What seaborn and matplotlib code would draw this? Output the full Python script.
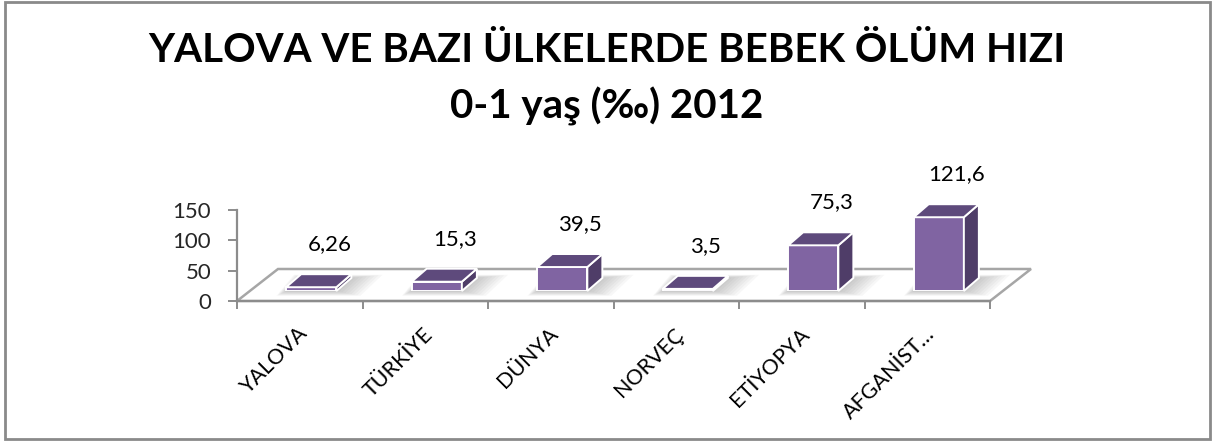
import matplotlib
matplotlib.use("Agg")
import matplotlib.pyplot as plt
import seaborn as sns
import pandas as pd
from matplotlib.patches import Polygon, Rectangle

# Infant mortality rate, 0-1 age (per mille), 2012
categories = ["YALOVA", "TÜRKİYE", "DÜNYA", "NORVEÇ", "ETİYOPYA", "AFGANİST…"]
rates = [6.26, 15.3, 39.5, 3.5, 75.3, 121.6]
y_ticks = [0, 50, 100, 150]
title_lines = ["YALOVA VE BAZI ÜLKELERDE BEBEK ÖLÜM HIZI", "0-1 yaş (‰) 2012"]

df = pd.DataFrame({"category": categories, "rate": rates})

sns.set_style("white")
plt.rcParams["font.family"] = ["Lato", "DejaVu Sans"]

FRONT = "#8064A2"
TOP = "#5E4A7C"
SIDE = "#4F3D68"
GRID = "#8C8C8C"
FLOOR = "#A6A6A6"

W, H = 1214, 441
fig = plt.figure(figsize=(W / 100, H / 100), dpi=100)


def px_box(left, top, right, bottom):
    return [left / W, 1 - bottom / H, (right - left) / W, (bottom - top) / H]


# outer chart frame
fig.patches.append(Rectangle((5 / W, 2 / H), 1205 / W, 437 / H, transform=fig.transFigure,
                             fill=False, edgecolor="#8A8A8A", linewidth=2))

# front axis plane
ax = fig.add_axes(px_box(237, 210, 990, 301))
ax.set_xlim(-0.5, len(categories) - 0.5)
ax.set_ylim(0, 150)

# bar plane (sits a little deeper on the floor)
ax_bar = fig.add_axes(px_box(248.5, 200, 1001.5, 291))

px_x = 753 / len(categories)      # pixels per category
px_y = 91 / 150                   # pixels per value unit

# floor of the 3D plot
fdx, fdy = 41 / px_x, 32 / px_y
x0f, x1f = -0.5, len(categories) - 0.5
floor = Polygon([(x0f, 0), (x0f + fdx, fdy), (x1f + fdx, fdy), (x1f, 0)], closed=True,
                facecolor="white", edgecolor=FLOOR, linewidth=1.8, clip_on=False, zorder=0.5)
ax.add_patch(floor)

for side in ["top", "right"]:
    ax.spines[side].set_visible(False)
for side in ["left", "bottom"]:
    ax.spines[side].set_color(GRID)
    ax.spines[side].set_linewidth(1.6)

ax.set_yticks(y_ticks)
ax.set_yticklabels([str(t) for t in y_ticks])
ax.tick_params(axis="y", direction="out", length=6.5, width=1.4, color=GRID,
               labelsize=16, pad=12, left=True)
ax.set_xticks([i - 0.5 for i in range(len(categories) + 1)])
ax.set_xticklabels([])
ax.tick_params(axis="x", direction="out", length=6, width=1.4, color=GRID, bottom=True)
ax.set_xlabel("")
ax.set_ylabel("")

for i, name in enumerate(categories):
    ax.annotate(name, xy=(i, 0), xytext=(-2.0, -16.5), textcoords="offset points",
                rotation=45, rotation_mode="anchor", ha="right", va="top",
                fontsize=15.5, color="black", annotation_clip=False)

# bars
sns.barplot(data=df, x="category", y="rate", ax=ax_bar, color=FRONT, saturation=1,
            width=0.4, edgecolor="white", linewidth=1.4, zorder=3)
ax_bar.set_xlim(-0.5, len(categories) - 0.5)
ax_bar.set_ylim(0, 150)
ax_bar.axis("off")
ax_bar.patch.set_alpha(0)

bdx, bdy = 15 / px_x, 13 / px_y
for bar, value in zip(list(ax_bar.patches), rates):
    x0 = bar.get_x()
    w = bar.get_width()
    h = bar.get_height()
    # soft shadow on the floor
    for k in range(1, 9):
        ex = k * 3.0 / px_x
        ey = k * 1.0 / px_y
        shadow = Polygon([(x0 - ex * 0.4, -ey * 0.6), (x0 + w + ex, -ey * 0.6),
                          (x0 + w + bdx + ex * 1.3, bdy + ey * 0.4), (x0 + bdx - ex * 0.3, bdy + ey * 0.4)],
                         closed=True, facecolor="#6E6E6E", edgecolor="none", alpha=0.05,
                         clip_on=False, zorder=1)
        ax_bar.add_patch(shadow)
    top = Polygon([(x0, h), (x0 + w, h), (x0 + w + bdx, h + bdy), (x0 + bdx, h + bdy)],
                  closed=True, facecolor=TOP, edgecolor="white", linewidth=1.4,
                  clip_on=False, zorder=3)
    side = Polygon([(x0 + w, 0), (x0 + w + bdx, bdy), (x0 + w + bdx, h + bdy), (x0 + w, h)],
                   closed=True, facecolor=SIDE, edgecolor="white", linewidth=1.4,
                   clip_on=False, zorder=3)
    ax_bar.add_patch(side)
    ax_bar.add_patch(top)
    label = f"{value:g}".replace(".", ",")
    ax_bar.annotate(label, xy=(x0 + w / 2, h), xytext=(13, 31), textcoords="offset points",
                    ha="center", va="center", fontsize=16, color="black",
                    annotation_clip=False)

fig.text(0.5, 1 - 50 / H, title_lines[0], ha="center", va="center",
         fontsize=29, fontweight="bold", color="black")
fig.text(0.5, 1 - 106 / H, title_lines[1], ha="center", va="center",
         fontsize=29, fontweight="bold", color="black")

fig.savefig("out.png", dpi=100, facecolor="white")
